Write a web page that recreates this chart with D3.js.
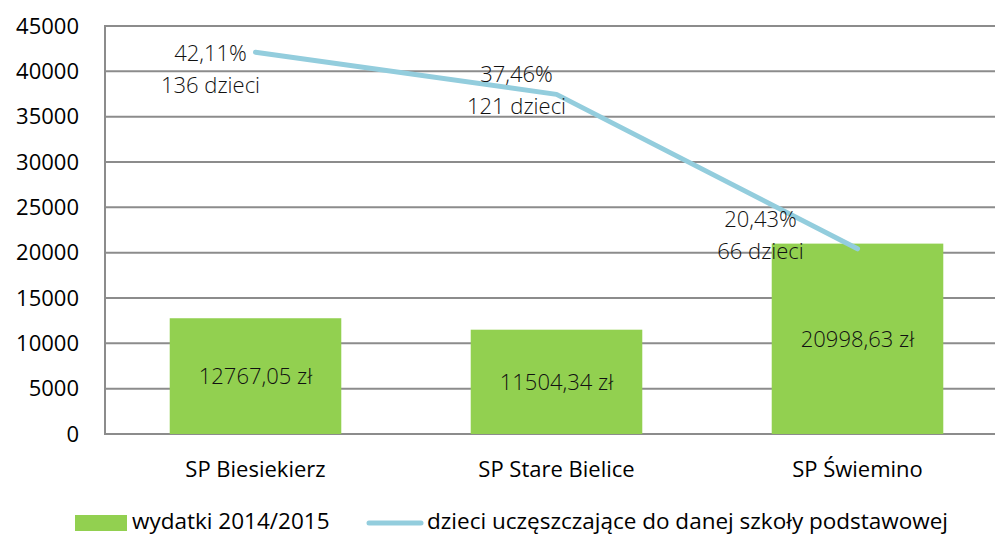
<!DOCTYPE html>
<html>
  <head>
    <meta charset="utf-8">
    <style>
      body { margin: 0; background: #fff; }
      svg text { font-family: "Open Sans", sans-serif; fill: #000; }
      .grid line { stroke: #8c8c8c; stroke-width: 2; }
      .tick-label { font-size: 22px; }
      .cat-label { font-size: 22px; }
      .val-label { font-size: 22px; font-weight: 300; fill: #111; }
      .legend text { font-size: 22.5px; }
    </style>
  </head>
  <body>
    <svg width="995" height="536"></svg>
    <script src="https://d3js.org/d3.v7.min.js"></script>
    <script>
      // data
      var schools = ["SP Biesiekierz", "SP Stare Bielice", "SP Świemino"];
      var spending = [12767.05, 11504.34, 20998.63];
      var spendingLabels = ["12767,05 zł", "11504,34 zł", "20998,63 zł"];
      var pupilShare = [42.11, 37.46, 20.43];
      var shareLabels = ["42,11%", "37,46%", "20,43%"];
      var pupilLabels = ["136 dzieci", "121 dzieci", "66 dzieci"];
      var yTicks = [0, 5000, 10000, 15000, 20000, 25000, 30000, 35000, 40000, 45000];
      var legendNames = ["wydatki 2014/2015", "dzieci uczęszczające do danej szkoły podstawowej"];

      var svg = d3.select("svg");
      var plotLeft = 105, plotRight = 1008, plotTop = 26, plotBottom = 434;

      var x = d3.scaleBand()
        .domain(schools)
        .range([plotLeft, plotRight])
        .paddingInner(0.43)
        .paddingOuter(0.215);

      var y = d3.scaleLinear()
        .domain([0, 45000])
        .range([plotBottom, plotTop]);

      // the percentage line sits on a hidden secondary axis
      var y2 = d3.scaleLinear()
        .domain([0, 45])
        .range([plotBottom, plotTop]);

      var green = "#92d050", blue = "#93cddd";

      // gridlines
      svg.append("g")
          .attr("class", "grid")
        .selectAll("line")
        .data(yTicks)
        .enter().append("line")
          .attr("x1", plotLeft)
          .attr("x2", 995)
          .attr("y1", function(d) { return y(d); })
          .attr("y2", function(d) { return y(d); });

      svg.append("line")
        .attr("x1", plotLeft).attr("x2", plotLeft)
        .attr("y1", plotTop - 1).attr("y2", plotBottom + 1)
        .attr("stroke", "#8c8c8c")
        .attr("stroke-width", 2);

      svg.append("g")
        .selectAll("text")
        .data(yTicks)
        .enter().append("text")
          .attr("class", "tick-label")
          .attr("x", 79)
          .attr("y", function(d) { return y(d); })
          .attr("dy", "0.35em")
          .attr("text-anchor", "end")
          .text(function(d) { return d; });

      // bars
      svg.append("g")
        .selectAll("rect")
        .data(spending)
        .enter().append("rect")
          .attr("x", function(d, i) { return x(schools[i]); })
          .attr("width", x.bandwidth())
          .attr("y", function(d) { return y(d); })
          .attr("height", function(d) { return plotBottom - y(d); })
          .attr("fill", green);

      svg.append("g")
        .selectAll("text")
        .data(spending)
        .enter().append("text")
          .attr("class", "val-label")
          .attr("x", function(d, i) { return x(schools[i]) + x.bandwidth() / 2; })
          .attr("y", function(d) { return (y(d) + plotBottom) / 2; })
          .attr("dy", "0.35em")
          .attr("text-anchor", "middle")
          .text(function(d, i) { return spendingLabels[i]; });

      // category labels
      svg.append("g")
        .selectAll("text")
        .data(schools)
        .enter().append("text")
          .attr("class", "cat-label")
          .attr("x", function(d) { return x(d) + x.bandwidth() / 2; })
          .attr("y", 477)
          .attr("text-anchor", "middle")
          .text(function(d) { return d; });

      // line
      var line = d3.line()
        .x(function(d, i) { return x(schools[i]) + x.bandwidth() / 2; })
        .y(function(d) { return y2(d); });

      svg.append("path")
        .datum(pupilShare)
        .attr("d", line)
        .attr("fill", "none")
        .attr("stroke", blue)
        .attr("stroke-width", 5)
        .attr("stroke-linecap", "round")
        .attr("stroke-linejoin", "round");

      // label placement relative to each point
      var labelShift = [[-45, 9], [-40, -12], [-97, -22]];

      var lbl = svg.append("g")
        .selectAll("text")
        .data(pupilShare)
        .enter().append("text")
          .attr("class", "val-label")
          .attr("text-anchor", "middle")
          .attr("x", function(d, i) { return x(schools[i]) + x.bandwidth() / 2 + labelShift[i][0]; })
          .attr("y", function(d, i) { return y2(d) + labelShift[i][1]; });

      lbl.append("tspan")
        .text(function(d, i) { return shareLabels[i]; });
      lbl.append("tspan")
        .attr("x", function(d, i) { return x(schools[i]) + x.bandwidth() / 2 + labelShift[i][0]; })
        .attr("dy", 32)
        .text(function(d, i) { return pupilLabels[i]; });

      // legend
      var legend = svg.append("g").attr("class", "legend");
      legend.append("rect")
        .attr("x", 75).attr("y", 515)
        .attr("width", 52).attr("height", 16)
        .attr("fill", green);
      legend.append("text")
        .attr("x", 132).attr("y", 529)
        .text(legendNames[0]);
      legend.append("line")
        .attr("x1", 369).attr("x2", 421)
        .attr("y1", 523).attr("y2", 523)
        .attr("stroke", blue)
        .attr("stroke-width", 5)
        .attr("stroke-linecap", "round");
      legend.append("text")
        .attr("x", 427).attr("y", 529)
        .text(legendNames[1]);
    </script>
  </body>
</html>
